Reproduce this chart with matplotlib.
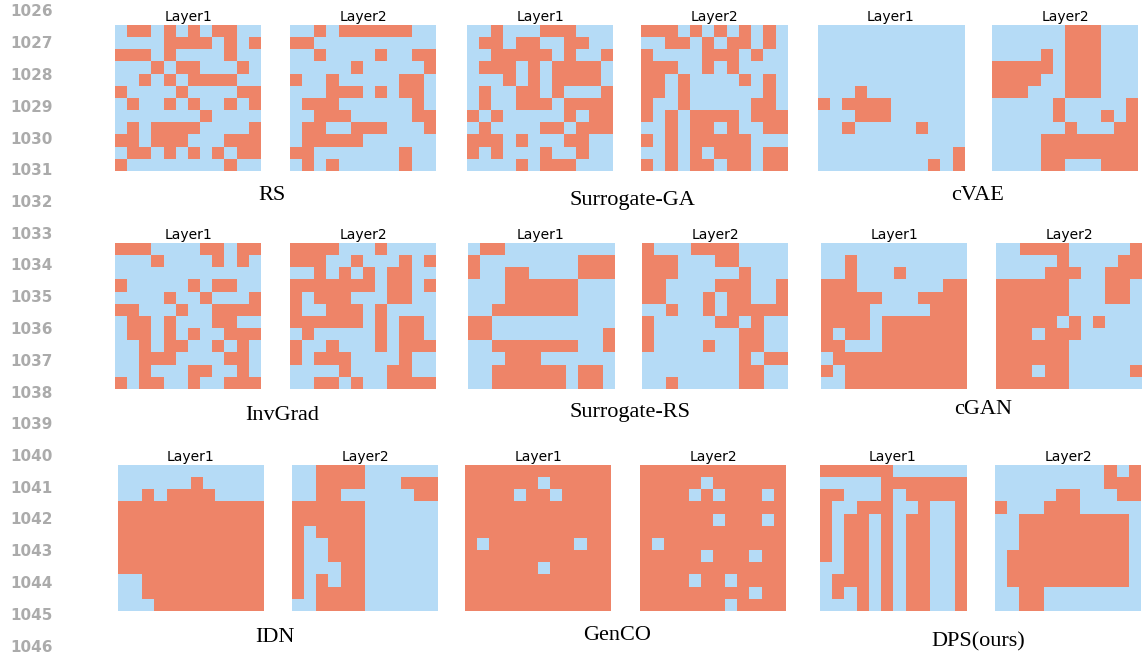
import matplotlib.pyplot as plt
import numpy as np
from matplotlib.colors import ListedColormap

# 12x12 layer masks, one string per row ('1' = filled)
rs_layer1 = ["011010101100", "000011110101", "111010000100", "000101100010",
             "001010111100", "100001000011", "010010100101", "000000010000",
             "010111100001", "110111000111", "011010101011", "100000000100"]
rs_layer2 = ["001011111100", "110000000000", "001000010011", "000001000001",
             "100100000110", "000111010110", "011100000010", "001110000011",
             "011001110001", "011111000000", "110000000100", "010100000100"]
sga_layer1 = ["001000111000", "011011001100", "001111101001", "011101011110",
              "000101011110", "010011010001", "010011101111", "101000001011",
              "010000110111", "111010001100", "101000100100", "000010111000"]
sga_layer2 = ["111010101010", "001101011010", "100001110100", "111001010000",
              "110100001010", "110100000010", "100100000110", "101011110111",
              "001011010011", "101011111000", "001010111011", "101011011011"]
cvae_layer1 = ["000000000000", "000000000000", "000000000000", "000000000000",
               "000000000000", "000100000000", "101111000000", "000111000000",
               "001000001000", "000000000000", "000000000001", "000000000101"]
cvae_layer2 = ["000000111000", "000000111000", "000010111000", "111110111000",
               "111100111000", "111000111000", "000001000001", "000001000101",
               "000000100011", "000011111111", "000011111111", "000011000111"]
invgrad_layer1 = ["111000011011", "000100001010", "000000000000", "100000101100",
                  "000010010001", "110001001111", "011010001100", "011010100111",
                  "001011001010", "001110000110", "001000110010", "101100100111"]
invgrad_layer2 = ["111100010000", "111001000101", "001010101100", "111111101101",
                  "101110001100", "100111010000", "111111010110", "010000010110",
                  "100100010111", "101110000100", "000010001100", "001101001111"]
srs_layer1 = ["011000000000", "100000000111", "100110000111", "000111111000",
              "000111111000", "001111111000", "110000000000", "110000000001",
              "001111111001", "000111000000", "001111110110", "001111110110"]
srs_layer2 = ["100011110000", "111000110000", "111000001000", "110000111001",
              "110001011001", "001001011111", "100000110100", "100000001100",
              "100001001100", "000000001011", "000000001100", "001000001100"]
cgan_layer1 = ["000000000000", "001000000000", "001000100000", "111000000011",
               "111110001111", "111100000111", "111101111111", "101101111111",
               "110001111111", "011111111111", "101111111111", "001111111111"]
cgan_layer2 = ["001111000001", "000001000011", "000011100111", "111111000110",
               "111111000110", "111111000000", "111110101000", "111011100000",
               "111111000000", "111111000000", "111011000001", "111111000000"]
idn_layer1 = ["000000000000", "000000100000", "001011110000", "111111111111",
              "111111111111", "111111111111", "111111111111", "111111111111",
              "111111111111", "001111111111", "001111111111", "000111111111"]
idn_layer2 = ["001111000000", "001111000111", "001100000011", "111111000000",
              "111111000000", "101111000000", "100111000000", "100111000000",
              "100011000000", "101011000000", "101111000000", "001111000000"]
genco_layer1 = ["111111111111", "111111011111", "111101101111", "111111111111",
                "111111111111", "111111111111", "101111111011", "111111111111",
                "111111011111", "111111111111", "111111111111", "111111111111"]
genco_layer2 = ["111111111111", "111110111111", "111101011101", "111111111111",
                "111111011101", "111111111111", "101111111111", "111110111011",
                "111111111111", "111101101111", "111111111011", "111111101111"]
dps_layer1 = ["111111000000", "000001111111", "110001011111", "100111001001",
              "101101011001", "101101011001", "101101011001", "101101011001",
              "001101011001", "011101011001", "010101011001", "000101011001"]
dps_layer2 = ["000000000101", "000000000111", "000001100011", "100011100000",
              "001111111110", "001111111110", "001111111110", "011111111110",
              "011111111110", "011111111110", "001100000000", "001100000000"]

methods = ["RS", "Surrogate-GA", "cVAE",
           "InvGrad", "Surrogate-RS", "cGAN",
           "IDN", "GenCO", "DPS(ours)"]
layers = [(rs_layer1, rs_layer2), (sga_layer1, sga_layer2), (cvae_layer1, cvae_layer2),
          (invgrad_layer1, invgrad_layer2), (srs_layer1, srs_layer2), (cgan_layer1, cgan_layer2),
          (idn_layer1, idn_layer2), (genco_layer1, genco_layer2), (dps_layer1, dps_layer2)]
line_numbers = list(range(1026, 1047))

W, H = 1142, 653
cmap = ListedColormap(["#b5dbf6", "#ee8468"])

# panel placement in pixels: left edge of each grid and top edge of each row
grid_x = [[115, 290, 467, 641, 818, 992],
          [115, 290, 468, 642, 821, 996],
          [118, 292, 465, 640, 820, 995]]
grid_y = [25, 243, 465]
size = 146
label_pos = [(272, 195), (632, 200), (978, 196),
             (282, 416), (630, 412), (983, 410),
             (275, 638), (617, 636), (978, 642)]


def to_grid(rows):
    return np.array([[int(c) for c in r] for r in rows])


fig = plt.figure(figsize=(W / 100, H / 100), dpi=100)

for k, (name, pair) in enumerate(zip(methods, layers)):
    r, c = divmod(k, 3)
    for j, rows in enumerate(pair):
        x0 = grid_x[r][2 * c + j]
        y0 = grid_y[r]
        ax = fig.add_axes([x0 / W, 1 - (y0 + size) / H, size / W, size / H])
        ax.imshow(to_grid(rows), cmap=cmap, vmin=0, vmax=1, interpolation="nearest")
        ax.set_xticks([])
        ax.set_yticks([])
        for s in ax.spines.values():
            s.set_visible(False)
        ax.set_title("Layer%d" % (j + 1), fontsize=10, pad=3)
    lx, ly = label_pos[k]
    fig.text(lx / W, 1 - ly / H, name, ha="center", va="center",
             fontsize=16, family="Liberation Serif")

# review line numbers down the margin
for i, n in enumerate(line_numbers):
    fig.text(53 / W, 1 - (12 + i * 31.75) / H, str(n), ha="right", va="center",
             fontsize=11, fontweight="bold", color="#ababab")

fig.savefig("out.png", dpi=100)
